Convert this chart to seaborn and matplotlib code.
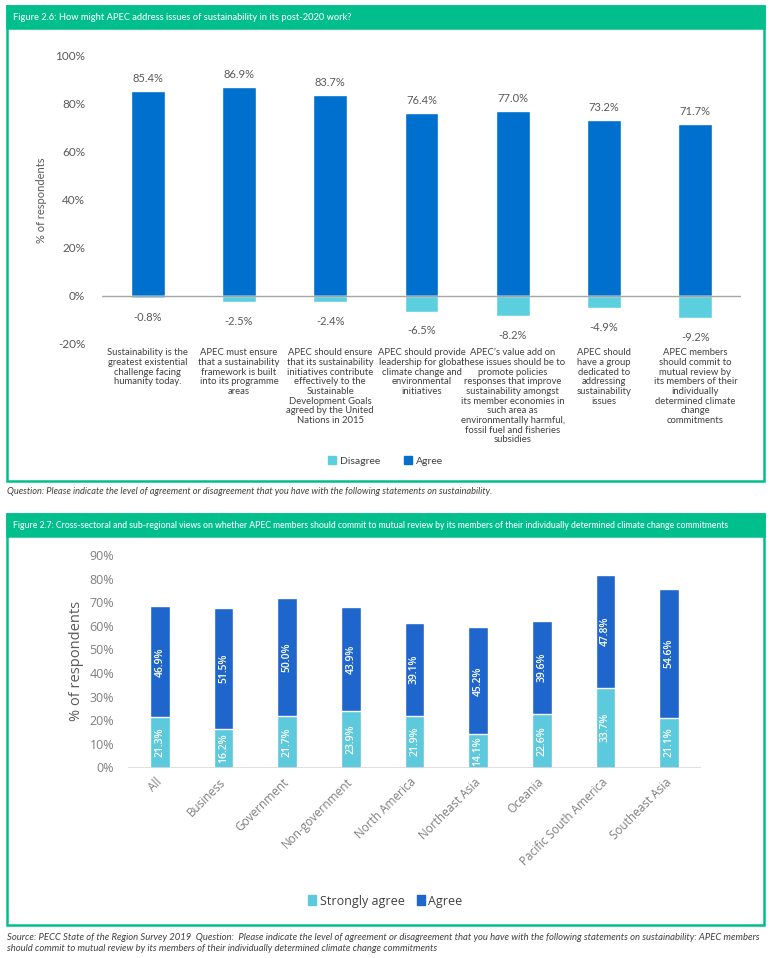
import matplotlib
matplotlib.use("Agg")
import matplotlib.pyplot as plt
from matplotlib.patches import Rectangle, Patch
import seaborn as sns

W, H = 771, 958

# Figure 2.6 data
statements = [
    "Sustainability is the\ngreatest existential\nchallenge facing\nhumanity today.",
    "APEC must ensure\nthat a sustainability\nframework is built\ninto its programme\nareas",
    "APEC should ensure\nthat its sustainability\ninitiatives contribute\neffectively to the\nSustainable\nDevelopment Goals\nagreed by the United\nNations in 2015",
    "APEC should provide\nleadership for global\nclimate change and\nenvironmental\ninitiatives",
    "APEC\u2019s value add on\nthese issues should be to\npromote policies\nresponses that improve\nsustainability amongst\nits member economies in\nsuch area as\nenvironmentally harmful,\nfossil fuel and fisheries\nsubsidies",
    "APEC should\nhave a group\ndedicated to\naddressing\nsustainability\nissues",
    "APEC members\nshould commit to\nmutual review by\nits members of their\nindividually\ndetermined climate\nchange\ncommitments",
]
agree_26 = [85.4, 86.9, 83.7, 76.4, 77.0, 73.2, 71.7]
disagree_26 = [-0.8, -2.5, -2.4, -6.5, -8.2, -4.9, -9.2]
yticks_26 = [-20, 0, 20, 40, 60, 80, 100]

# Figure 2.7 data
groups = ["All", "Business", "Government", "Non-government", "North America",
          "Northeast Asia", "Oceania", "Pacific South America", "Southeast Asia"]
strongly_27 = [21.3, 16.2, 21.7, 23.9, 21.9, 14.1, 22.6, 33.7, 21.1]
agree_27 = [46.9, 51.5, 50.0, 43.9, 39.1, 45.2, 39.6, 47.8, 54.6]
yticks_27 = [0, 10, 20, 30, 40, 50, 60, 70, 80, 90]

title_26 = "Figure 2.6: How might APEC address issues of sustainability in its post-2020 work?"
title_27 = ("Figure 2.7: Cross-sectoral and sub-regional views on whether APEC members should commit to "
            "mutual review by its members of their individually determined climate change commitments")
note_26 = ("Question: Please indicate the level of agreement or disagreement that you have with the "
           "following statements on sustainability.")
note_27 = ("Source: PECC State of the Region Survey 2019  Question:  Please indicate the level of agreement or "
           "disagreement that you have with the following statements on sustainability: APEC members\n"
           "should commit to mutual review by its members of their individually determined climate change commitments")

GREEN = "#00BF8C"
AGREE_26 = "#0070CE"
DISAGREE_26 = "#5CCFDF"
AGREE_27 = "#1E66CB"
STRONG_27 = "#5CC9DC"

sns.set_style("white")
plt.rcParams["font.family"] = ["Lato", "DejaVu Sans"]

fig = plt.figure(figsize=(W / 100, H / 100), dpi=100)


def fx(px):
    return px / W


def fy(py):
    return 1 - py / H


def frame(top, bottom, header_bottom, title, size):
    # green box with a filled header band
    fig.patches.append(Rectangle((fx(7), fy(bottom)), fx(764) - fx(7), fy(top) - fy(bottom),
                                 transform=fig.transFigure, fill=False, edgecolor=GREEN, linewidth=1.8))
    fig.patches.append(Rectangle((fx(7), fy(header_bottom)), fx(764) - fx(7), fy(top) - fy(header_bottom),
                                 transform=fig.transFigure, facecolor=GREEN, edgecolor=GREEN, linewidth=1.8))
    fig.text(fx(13), fy((top + header_bottom) / 2), title, color="white", fontsize=size,
             va="center", ha="left", fontweight="medium")


frame(6, 481, 28, title_26, 6.7)
frame(514, 925, 536, title_27, 6.2)
fig.text(fx(7), fy(491), note_26, fontsize=6.7, style="italic", color="#404040", va="center")
fig.text(fx(7), fy(943), note_27, fontsize=6.8, style="italic", color="#404040",
         va="center", linespacing=1.4)

# ---- Figure 2.6 ----
ax1 = fig.add_axes([fx(102), fy(344), fx(741) - fx(102), (344 - 56) / H])
sns.barplot(x=statements, y=agree_26, color=AGREE_26, saturation=1, width=0.37, ax=ax1)
sns.barplot(x=statements, y=disagree_26, color=DISAGREE_26, saturation=1, width=0.37, ax=ax1)
ax1.set_ylim(-20, 100)
ax1.set_yticks(yticks_26)
ax1.set_yticklabels([f"{t}%" for t in yticks_26])
ax1.axhline(0, color="#A6A6A6", linewidth=1)
sns.despine(ax=ax1, left=True, bottom=True)
ax1.tick_params(axis="y", length=0, pad=12, labelsize=8.5, labelcolor="#595959")
ax1.tick_params(axis="x", length=0, pad=3, labelsize=6.8, labelcolor="#404040")
for lab in ax1.get_xticklabels():
    lab.set_linespacing(1.1)
    lab.set_va("top")
ax1.set_ylabel("% of respondents", fontsize=8, color="#595959", labelpad=6)
ax1.bar_label(ax1.containers[0], labels=[f"{v:.1f}%" for v in agree_26], padding=5,
              fontsize=8, color="#595959")
ax1.bar_label(ax1.containers[1], labels=[f"{v:.1f}%" for v in disagree_26], padding=10,
              fontsize=8, color="#595959")
fig.legend(handles=[Patch(color=DISAGREE_26), Patch(color=AGREE_26)], labels=["Disagree", "Agree"],
           loc="center", bbox_to_anchor=(0.5, fy(461)), ncol=2, frameon=False,
           handlelength=0.8, handleheight=0.8, handletextpad=0.4, columnspacing=2.2,
           labelcolor="#404040", prop={"size": 7.5})

# ---- Figure 2.7 ----
total_27 = [s + a for s, a in zip(strongly_27, agree_27)]
ax2 = fig.add_axes([fx(128), fy(767.5), fx(701) - fx(128), (767.5 - 555) / H])
sns.barplot(x=groups, y=total_27, color=AGREE_27, saturation=1, width=0.31, ax=ax2)
sns.barplot(x=groups, y=strongly_27, color=STRONG_27, saturation=1, width=0.31, ax=ax2)
ax2.set_ylim(0, 90)
ax2.set_yticks(yticks_27)
ax2.set_yticklabels([f"{t}%" for t in yticks_27], family="Open Sans")
ax2.axhline(0, color="#D9D9D9", linewidth=1.2)
sns.despine(ax=ax2, left=True, bottom=True)
ax2.tick_params(axis="y", length=0, pad=10, labelsize=9, labelcolor="#7F7F7F")
ax2.tick_params(axis="x", length=0, pad=9, labelsize=8.5, labelcolor="#7F7F7F")
for lab in ax2.get_xticklabels():
    lab.set_rotation(45)
    lab.set_ha("right")
    lab.set_va("center")
    lab.set_rotation_mode("anchor")
    lab.set_family("Open Sans")
ax2.set_ylabel("% of respondents", fontsize=10.5, color="#595959", labelpad=4, family="Open Sans")
for i, (s, a) in enumerate(zip(strongly_27, agree_27)):
    ax2.text(i, s / 2, f"{s:.1f}%", rotation=90, ha="center", va="center", color="white",
             fontsize=7.5, fontweight="semibold", family="Open Sans")
    ax2.text(i, s + a / 2, f"{a:.1f}%", rotation=90, ha="center", va="center", color="white",
             fontsize=7.5, fontweight="semibold", family="Open Sans")
fig.legend(handles=[Patch(color=STRONG_27), Patch(color=AGREE_27)], labels=["Strongly agree", "Agree"],
           loc="center", bbox_to_anchor=(0.5, fy(901)), ncol=2, frameon=False,
           handlelength=0.6, handleheight=0.8, handletextpad=0.3, columnspacing=1.0,
           labelcolor="#404040", prop={"family": "Open Sans", "size": 9})

fig.savefig("out.png", dpi=100)
